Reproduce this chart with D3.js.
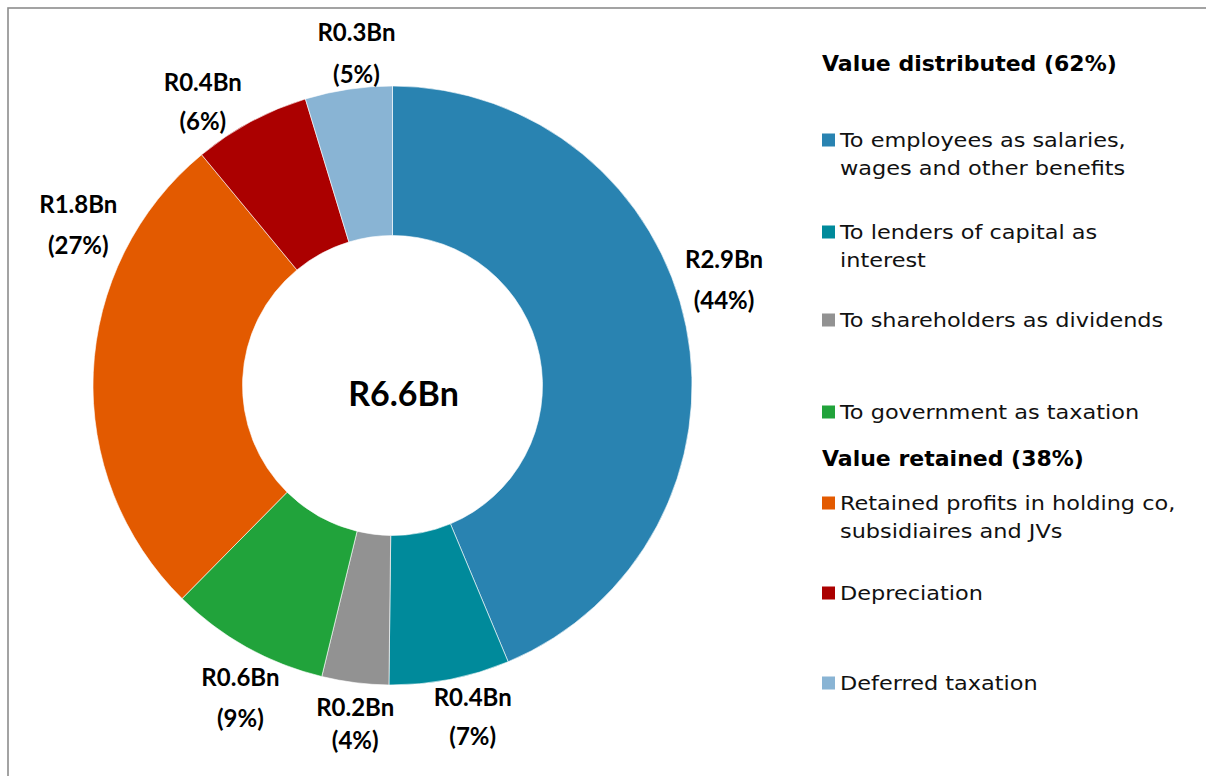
<!DOCTYPE html>
<html>
<head>
<meta charset="utf-8">
<script src="https://cdn.jsdelivr.net/npm/d3@7"></script>
<style>
  html, body { margin: 0; padding: 0; background: #fff; }
  svg { display: block; }
</style>
</head>
<body>
<svg id="chart" width="1206" height="776"></svg>
<script>
// ---------------- data ----------------
const categories = [
  "To employees as salaries, wages and other benefits",
  "To lenders of capital as interest",
  "To shareholders as dividends",
  "To government as taxation",
  "Retained profits in holding co, subsidiaires and JVs",
  "Depreciation",
  "Deferred taxation"
];
const legendLines = [
  ["To employees as salaries,", "wages and other benefits"],
  ["To lenders of capital as", "interest"],
  ["To shareholders as dividends"],
  ["To government as taxation"],
  ["Retained profits in holding co,", "subsidiaires and JVs"],
  ["Depreciation"],
  ["Deferred taxation"]
];
const values = [2.884, 0.429, 0.238, 0.568, 1.756, 0.416, 0.310]; // R billions (estimated)
const valueLabels = ["R2.9Bn", "R0.4Bn", "R0.2Bn", "R0.6Bn", "R1.8Bn", "R0.4Bn", "R0.3Bn"];
const percentLabels = ["(44%)", "(7%)", "(4%)", "(9%)", "(27%)", "(6%)", "(5%)"];
const colors = ["#2983b1", "#008a9b", "#929292", "#21a33b", "#e35a00", "#ab0000", "#89b4d4"];
const groupTitles = ["Value distributed (62%)", "Value retained (38%)"];
const totalLabel = "R6.6Bn";

// ---------------- layout ----------------
const W = 1206, H = 776;
const cx = 392.5, cy = 385.5;
const outerR = 299.5, innerR = 150;
// label placement (angle in degrees clockwise from top, radius, line gap)
const labelPlacement = [
  { a: 72.3, r: 348, gap: 41 },
  { a: 166.4, r: 341, gap: 39 },
  { a: 186.3, r: 340, gap: 33 },
  { a: 206.0, r: 347, gap: 41 },
  { a: 297.1, r: 353, gap: 41 },
  { a: 326.2, r: 341, gap: 39 },
  { a: 353.8, r: 334, gap: 42 }
];
// legend rows: y of first text line centre
const legendTitleY = [63, 458];
const legendItemY = [140, 232, 320, 412, 503, 593, 683];
const legendLineH = 28;

const svg = d3.select("#chart");

// frame
svg.append("rect")
  .attr("x", 8).attr("y", 8)
  .attr("width", 1400).attr("height", 1000)
  .attr("fill", "none")
  .attr("stroke", "#8d8d8d")
  .attr("stroke-width", 1.6);

const g = svg.append("g").attr("transform", `translate(${cx},${cy})`);

const pie = d3.pie().sort(null).value(d => d).startAngle(0).endAngle(2 * Math.PI);
const arcs = pie(values);
const arc = d3.arc().innerRadius(innerR).outerRadius(outerR);

g.selectAll("path.slice")
  .data(arcs)
  .join("path")
  .attr("class", "slice")
  .attr("d", arc)
  .attr("fill", (d, i) => colors[i])
  .attr("stroke", "#ffffff")
  .attr("stroke-width", 0.6);

// data labels
const labelFont = "Lato, 'DejaVu Sans', sans-serif";
arcs.forEach((d, i) => {
  const p = labelPlacement[i];
  const ang = p.a * Math.PI / 180;
  const la = d3.arc().innerRadius(p.r).outerRadius(p.r).startAngle(ang).endAngle(ang);
  const [x, y] = la.centroid();
  const t = g.append("g").attr("transform", `translate(${x},${y})`);
  t.append("text")
    .attr("text-anchor", "middle")
    .attr("y", -p.gap / 2)
    .attr("dy", "0.36em")
    .attr("font-family", labelFont)
    .attr("font-weight", "bold")
    .attr("font-size", 24)
    .attr("fill", "#000")
    .text(valueLabels[i]);
  t.append("text")
    .attr("text-anchor", "middle")
    .attr("y", p.gap / 2)
    .attr("dy", "0.36em")
    .attr("font-family", labelFont)
    .attr("font-weight", "bold")
    .attr("font-size", 24)
    .attr("fill", "#000")
    .text(percentLabels[i]);
});

// centre total
g.append("text")
  .attr("x", 11)
  .attr("y", 8)
  .attr("dy", "0.36em")
  .attr("text-anchor", "middle")
  .attr("font-family", labelFont)
  .attr("font-weight", "bold")
  .attr("font-size", 34)
  .attr("fill", "#000")
  .text(totalLabel);

// legend
const legendX = 822;
const textX = 840;
const legendFont = "'DejaVu Sans', sans-serif";

groupTitles.forEach((t, i) => {
  svg.append("text")
    .attr("transform", `translate(${legendX},${legendTitleY[i]}) scale(1.0,1)`)
    .attr("dy", "0.36em")
    .attr("font-family", legendFont)
    .attr("font-weight", "bold")
    .attr("font-size", 22)
    .attr("fill", "#000")
    .text(t);
});

const legend = svg.append("g");
legendLines.forEach((lines, i) => {
  const y0 = legendItemY[i];
  legend.append("rect")
    .attr("x", legendX)
    .attr("y", y0 - 6.5)
    .attr("width", 13)
    .attr("height", 13)
    .attr("fill", colors[i]);
  lines.forEach((ln, j) => {
    legend.append("text")
      .attr("transform", `translate(${textX},${y0 + j * legendLineH}) scale(1.12,1)`)
      .attr("dy", "0.36em")
      .attr("font-family", legendFont)
      .attr("font-size", 20)
      .attr("fill", "#111")
      .text(ln);
  });
});
</script>
</body>
</html>
